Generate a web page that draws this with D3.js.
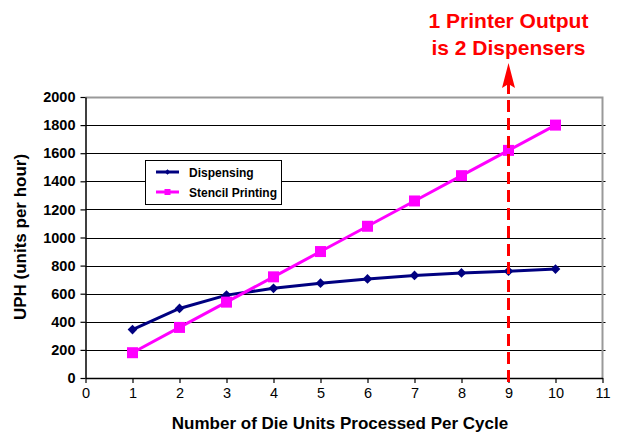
<!DOCTYPE html>
<html><head><meta charset="utf-8">
<script src="https://cdn.jsdelivr.net/npm/d3@7"></script>
<style>body{margin:0;background:#fff;} svg{display:block;font-family:"Liberation Sans",Arial,sans-serif;}</style>
</head><body>
<svg id="c" width="618" height="434"></svg>
<script>
const xValues = [1,2,3,4,5,6,7,8,9,10];
const dispensing = [345,495,590,638,675,705,730,748,760,775];
const stencil = [180,360,540,720,900,1080,1260,1440,1620,1800];
const xTicks = [0,1,2,3,4,5,6,7,8,9,10,11];
const yTicks = [0,200,400,600,800,1000,1200,1400,1600,1800,2000];
const markerX = 9;
const annotation = ["1 Printer Output","is 2 Dispensers"];
const seriesNames = ["Dispensing","Stencil Printing"];

const svg = d3.select("#c");
const L=85.5, R=602.5, T=97, B=378;
const x = d3.scaleLinear().domain([0,11]).range([L,R]);
const y = d3.scaleLinear().domain([0,2000]).range([B,T]);

// gridlines
svg.append("g").selectAll("line").data(yTicks.filter(d=>d>0&&d<2000)).join("line")
  .attr("x1",L).attr("x2",R+3).attr("y1",d=>Math.round(y(d))+0.5).attr("y2",d=>Math.round(y(d))+0.5)
  .attr("stroke","#000").attr("stroke-width",1.2);
// top/right border
svg.append("path").attr("d",`M${L},${T+0.5}H${R}V${B}`).attr("fill","none").attr("stroke","#999").attr("stroke-width",2);

// axes
const yAxis = svg.append("g").attr("transform",`translate(${L},0)`)
  .call(d3.axisLeft(y).tickValues(yTicks).tickFormat(d3.format("d")).tickSize(5).tickSizeOuter(0).tickPadding(5));
yAxis.select(".domain").attr("stroke","#000").attr("stroke-width",1.5);
yAxis.selectAll(".tick line").attr("stroke","#000").attr("stroke-width",1.2);
yAxis.selectAll("text").attr("font-size",14.5).attr("font-weight","bold").attr("fill","#000")
  .attr("font-family","Liberation Sans, Arial, sans-serif");

const xAxis = svg.append("g").attr("transform",`translate(0,${B})`)
  .call(d3.axisBottom(x).tickValues(xTicks).tickFormat(d3.format("d")).tickSize(5).tickSizeOuter(0).tickPadding(5));
xAxis.select(".domain").attr("stroke","#000").attr("stroke-width",1.5);
xAxis.selectAll(".tick line").attr("stroke","#000").attr("stroke-width",1.2);
xAxis.selectAll("text").attr("font-size",14.5).attr("fill","#000")
  .attr("font-family","Liberation Sans, Arial, sans-serif");

// series
const line = d3.line().x((d,i)=>x(xValues[i])).y(d=>y(d));
svg.append("path").datum(dispensing).attr("d",line).attr("fill","none").attr("stroke","#000080").attr("stroke-width",3);
svg.append("path").datum(stencil).attr("d",line).attr("fill","none").attr("stroke","#FF00FF").attr("stroke-width",3);
const diamond = d3.symbol().type(d3.symbolDiamond2).size(60);
svg.append("g").selectAll("path").data(dispensing).join("path")
  .attr("d",diamond).attr("transform",(d,i)=>`translate(${x(xValues[i])},${y(d)})`).attr("fill","#000080");
svg.append("g").selectAll("rect").data(stencil).join("rect")
  .attr("x",(d,i)=>x(xValues[i])-5.5).attr("y",d=>y(d)-5.5).attr("width",11).attr("height",11).attr("fill","#FF00FF");

// dashed marker line and arrow
const ax = x(markerX);
svg.append("line").attr("x1",ax).attr("x2",ax).attr("y1",B+4).attr("y2",84)
  .attr("stroke","#FF0000").attr("stroke-width",3).attr("stroke-dasharray","12,6");
svg.append("path").attr("d",`M${ax},63 L${ax-6.5},88 L${ax},84 L${ax+6.5},88 Z`).attr("fill","#FF0000");
svg.append("g").selectAll("text").data(annotation).join("text")
  .attr("x",ax).attr("y",(d,i)=>28+i*27).attr("text-anchor","middle")
  .attr("font-size",21).attr("font-weight","bold").attr("fill","#FF0000").text(d=>d);

// legend
const lg = svg.append("g");
lg.append("rect").attr("x",145.5).attr("y",160.5).attr("width",136).attr("height",44).attr("fill","#fff").attr("stroke","#000").attr("stroke-width",1);
const colors = ["#000080","#FF00FF"];
seriesNames.forEach((n,i)=>{
  const cy = 172+i*20;
  lg.append("line").attr("x1",156).attr("x2",179).attr("y1",cy).attr("y2",cy).attr("stroke",colors[i]).attr("stroke-width",3);
  if(i===0) lg.append("path").attr("d",d3.symbol().type(d3.symbolDiamond2).size(20)).attr("transform",`translate(167.5,${cy})`).attr("fill",colors[i]);
  else lg.append("rect").attr("x",164.5).attr("y",cy-3).attr("width",6).attr("height",6).attr("fill",colors[i]);
  lg.append("text").attr("x",189).attr("y",cy+4.5).attr("font-size",12).attr("font-weight","bold").text(n);
});

// axis titles
svg.append("text").attr("x",340).attr("y",429).attr("text-anchor","middle").attr("font-size",17).attr("font-weight","bold").text("Number of Die Units Processed Per Cycle");
svg.append("text").attr("transform","translate(26,237) rotate(-90)").attr("text-anchor","middle").attr("font-size",17).attr("font-weight","bold").text("UPH (units per hour)");
</script>
</body></html>
